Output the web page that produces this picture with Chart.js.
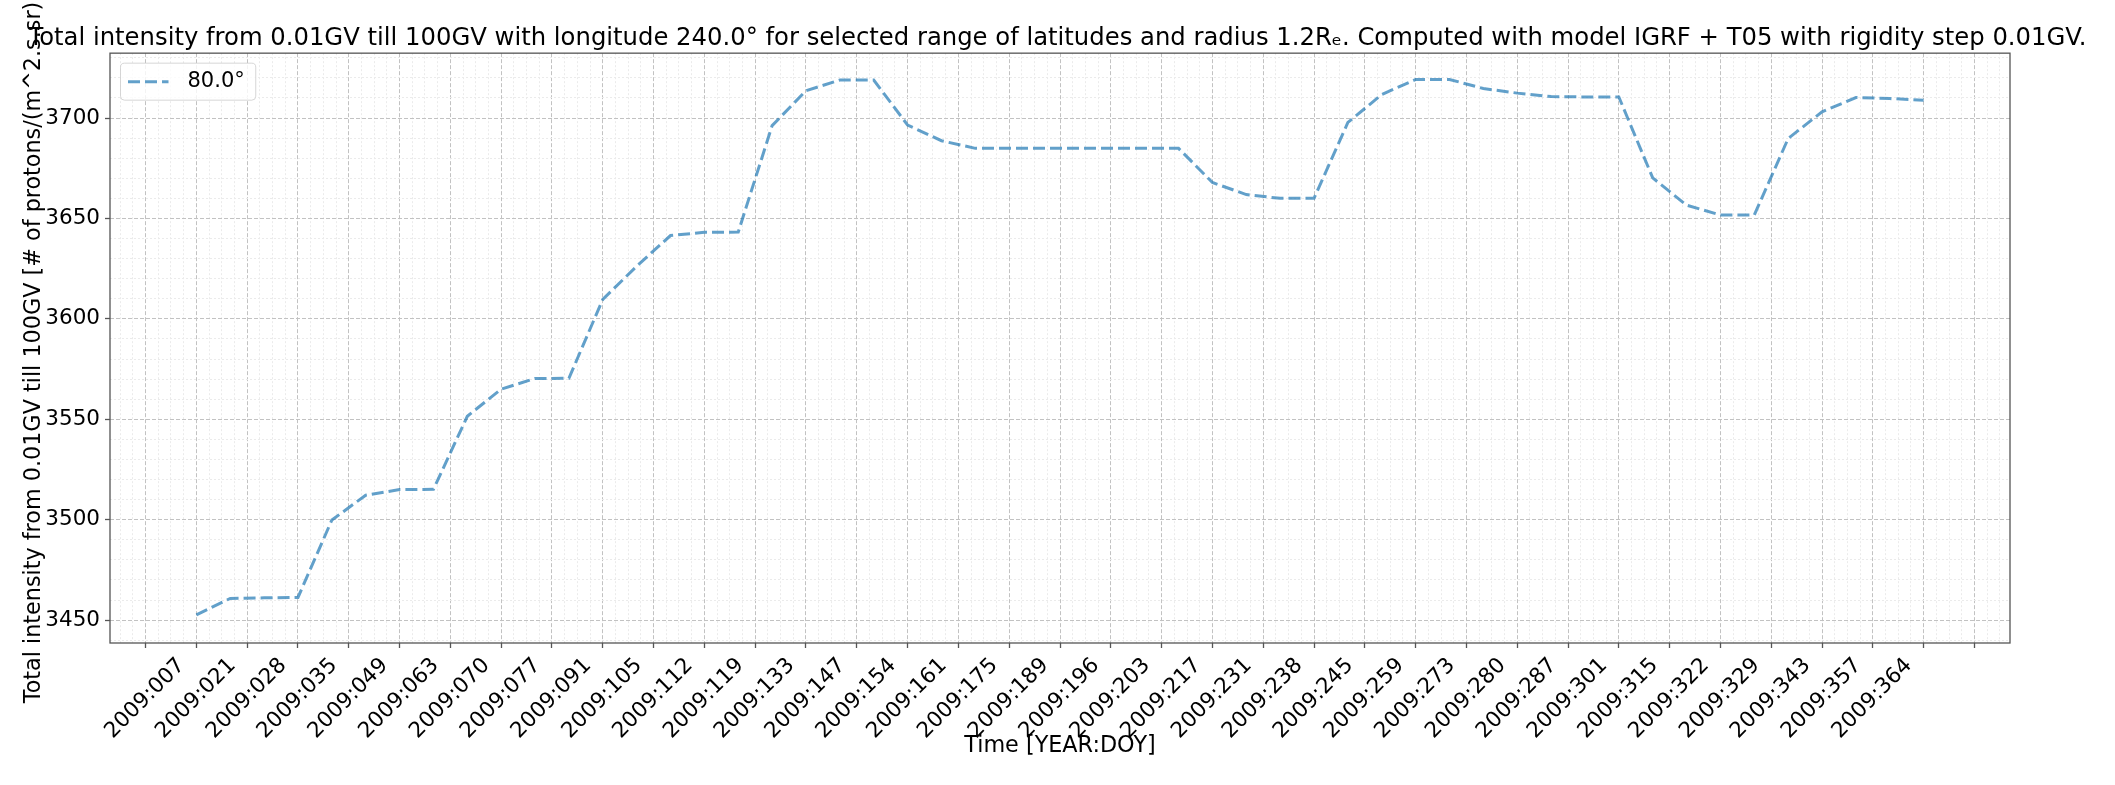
<!DOCTYPE html>
<html>
<head>
<meta charset="utf-8">
<title>Total intensity 2009</title>
<script src="https://cdn.jsdelivr.net/npm/chart.js@4.4.1/dist/chart.umd.min.js"></script>
<style>
    html, body { margin: 0; padding: 0; background: #fff; }
    #wrap { width: 2115px; height: 785px; }
</style>
</head>
<body>
<div id="wrap"><canvas id="intensity-chart" width="2115" height="785"></canvas></div>
<script>
// day of year (2009) of every weekly sample
const days = [7, 14, 21, 28, 35, 42, 49, 56, 63, 70, 77, 84, 91, 98, 105, 112, 119, 126,
    133, 140, 147, 154, 161, 168, 175, 182, 189, 196, 203, 210, 217, 224, 231, 238, 245,
    252, 259, 266, 273, 280, 287, 294, 301, 308, 315, 322, 329, 336, 343, 350, 357, 364];

// total intensity at latitude 80.0°
const intensity = [3452.6, 3460.8, 3461.1, 3461.3, 3499.8, 3512.2, 3515.0, 3515.1, 3551.5,
    3565.0, 3570.3, 3570.4, 3609.7, 3626.2, 3641.5, 3643.1, 3643.2, 3696.2, 3713.6, 3718.9,
    3718.9, 3696.5, 3688.7, 3684.9, 3684.9, 3684.9, 3684.9, 3684.9, 3684.9, 3684.9, 3667.9,
    3661.9, 3660.0, 3660.0, 3697.8, 3711.7, 3719.2, 3719.2, 3714.7, 3712.4, 3710.7, 3710.5,
    3710.5, 3670.2, 3656.6, 3651.7, 3651.7, 3689.8, 3703.1, 3710.2, 3709.7, 3708.9];

// x tick labels as printed under the axis
const tickLabels = ["2009:007", "2009:021", "2009:028", "2009:035", "2009:049", "2009:063",
    "2009:070", "2009:077", "2009:091", "2009:105", "2009:112", "2009:119", "2009:133",
    "2009:147", "2009:154", "2009:161", "2009:175", "2009:189", "2009:196", "2009:203",
    "2009:217", "2009:231", "2009:238", "2009:245", "2009:259", "2009:273", "2009:280",
    "2009:287", "2009:301", "2009:315", "2009:322", "2009:329", "2009:343", "2009:357",
    "2009:364"];

const yTickValues = [3450, 3500, 3550, 3600, 3650, 3700];
const seriesName = "80.0°";

// axis layout
const xMin = -10.85, xMax = 381.85;
const xTickStart = -3.5, xTickStep = 10.5, xMinorStep = 2.625;
const yMin = 3438.6, yMax = 3732.3, yMinorStep = 10;

const majorGrid = "#c2c2c2";
const minorGrid = "#ebebeb";
const spine = "#555555";

function isMajorX(v) {
    const k = (v - xTickStart) / xTickStep;
    return Math.abs(k - Math.round(k)) < 1e-6;
}
function isMajorY(v) {
    return yTickValues.some(t => Math.abs(t - v) < 1e-6);
}

Chart.defaults.font.family = "'DejaVu Sans', sans-serif";
Chart.defaults.font.size = 21.5;
Chart.defaults.color = "#000";

// plot frame and legend box drawn on top like matplotlib
const frameLegend = {
    id: "frameLegend",
    afterDatasetsDraw(chart) {
        const { ctx, chartArea: a } = chart;
        ctx.save();
        ctx.strokeStyle = spine;
        ctx.lineWidth = 1.3;
        ctx.strokeRect(a.left, a.top, a.right - a.left, a.bottom - a.top);

        const ds = chart.data.datasets[0];
        ctx.font = "21px 'DejaVu Sans'";
        const tw = ctx.measureText(ds.label).width;
        const x0 = a.left + 10.5, y0 = a.top + 10, w = 67 + tw + 11, h = 37, r = 4;
        ctx.beginPath();
        ctx.moveTo(x0 + r, y0);
        ctx.arcTo(x0 + w, y0, x0 + w, y0 + h, r);
        ctx.arcTo(x0 + w, y0 + h, x0, y0 + h, r);
        ctx.arcTo(x0, y0 + h, x0, y0, r);
        ctx.arcTo(x0, y0, x0 + w, y0, r);
        ctx.closePath();
        ctx.fillStyle = "rgba(255,255,255,0.8)";
        ctx.fill();
        ctx.strokeStyle = "rgba(204,204,204,0.8)";
        ctx.lineWidth = 1;
        ctx.stroke();

        const cy = y0 + h / 2;
        ctx.beginPath();
        ctx.setLineDash(ds.borderDash);
        ctx.strokeStyle = ds.borderColor;
        ctx.lineWidth = ds.borderWidth;
        ctx.moveTo(x0 + 7.5, cy);
        ctx.lineTo(x0 + 48, cy);
        ctx.stroke();
        ctx.setLineDash([]);

        ctx.fillStyle = "#000";
        ctx.textBaseline = "middle";
        ctx.textAlign = "left";
        ctx.fillText(ds.label, x0 + 67, cy);
        ctx.restore();
    }
};

const ctx = document.getElementById("intensity-chart").getContext("2d");
const intensityChart = new Chart(ctx, {
    type: "line",
    data: {
        datasets: [{
            label: seriesName,
            data: days.map((d, i) => ({ x: d, y: intensity[i] })),
            borderColor: "rgba(31, 119, 180, 0.7)",
            borderWidth: 3,
            borderDash: [12, 5],
            pointRadius: 0,
            tension: 0,
            fill: false
        }]
    },
    options: {
        responsive: false,
        animation: false,
        devicePixelRatio: 1,
        layout: { padding: 0 },
        plugins: {
            legend: { display: false },
            tooltip: { enabled: false },
            title: {
                display: true,
                text: "Total intensity from 0.01GV till 100GV with longitude 240.0° for selected range of latitudes and radius 1.2Rₑ. Computed with model IGRF + T05 with rigidity step 0.01GV.",
                font: { size: 24.3, weight: "normal", lineHeight: 1.2 },
                color: "#000",
                padding: { top: 24, bottom: 0 }
            }
        },
        scales: {
            x: {
                type: "linear",
                min: xMin,
                max: xMax,
                afterBuildTicks(scale) {
                    const t = [];
                    for (let m = -2; xTickStart + m * xMinorStep <= xMax; m++) {
                        t.push({ value: xTickStart + m * xMinorStep });
                    }
                    scale.ticks = t;
                },
                afterFit(scale) {
                    scale.height = 142;
                    scale.paddingLeft = 0;
                    scale.paddingRight = 105;
                },
                ticks: {
                    autoSkip: false,
                    minRotation: 45,
                    maxRotation: 45,
                    padding: 5,
                    labelOffset: 36,
                    callback(value) {
                        if (!isMajorX(value)) return "";
                        const k = Math.round((value - xTickStart) / xTickStep);
                        return tickLabels[k] || "";
                    }
                },
                grid: {
                    color: c => (c.tick && isMajorX(c.tick.value)) ? majorGrid : minorGrid,
                    lineWidth: 1,
                    tickLength: 5,
                    tickWidth: 1.3,
                    tickColor: c => (c.tick && isMajorX(c.tick.value)) ? spine : "rgba(0,0,0,0)"
                },
                border: {
                    display: false,
                    dash: c => (c.tick && isMajorX(c.tick.value)) ? [4, 2] : [2, 2]
                },
                title: {
                    display: true,
                    text: "Time [YEAR:DOY]",
                    font: { size: 22.3, lineHeight: 1.2 },
                    padding: { top: 0, bottom: 25 }
                }
            },
            y: {
                type: "linear",
                min: yMin,
                max: yMax,
                afterBuildTicks(scale) {
                    const t = [];
                    for (let v = 3440; v <= yMax; v += yMinorStep) t.push({ value: v });
                    scale.ticks = t;
                },
                afterFit(scale) {
                    scale.width = 110;
                    scale.paddingTop = 0;
                    scale.paddingBottom = 0;
                },
                ticks: {
                    autoSkip: false,
                    padding: 5,
                    callback(value) {
                        return isMajorY(value) ? String(value) : "";
                    }
                },
                grid: {
                    color: c => (c.tick && isMajorY(c.tick.value)) ? majorGrid : minorGrid,
                    lineWidth: 1,
                    tickLength: 5,
                    tickWidth: 1.3,
                    tickColor: c => (c.tick && isMajorY(c.tick.value)) ? spine : "rgba(0,0,0,0)"
                },
                border: {
                    display: false,
                    dash: c => (c.tick && isMajorY(c.tick.value)) ? [4, 2] : [2, 2]
                },
                title: {
                    display: true,
                    text: "Total intensity from 0.01GV till 100GV [# of protons/(m^2.s.sr)]",
                    font: { size: 22.3, lineHeight: 1.2 },
                    padding: { top: 21, bottom: 0 }
                }
            }
        }
    },
    plugins: [frameLegend]
});
</script>
</body>
</html>
